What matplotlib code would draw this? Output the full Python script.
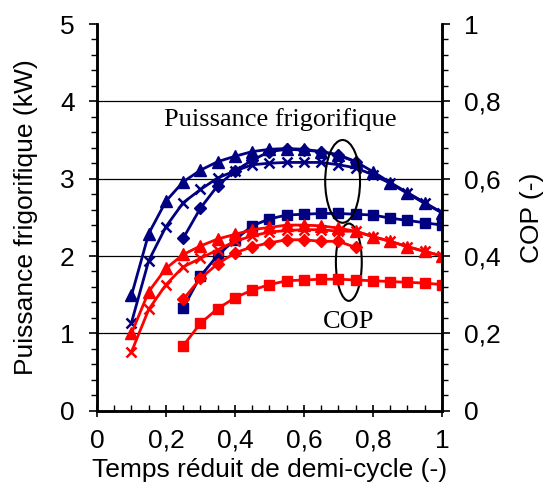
import matplotlib
matplotlib.use('Agg')
import matplotlib.pyplot as plt
from matplotlib.patches import Ellipse
from matplotlib.ticker import MultipleLocator, FuncFormatter

# Reduced half-cycle time (x axis)
x_full = [0.10, 0.15, 0.20, 0.25, 0.30, 0.35, 0.40, 0.45, 0.50, 0.55,
          0.60, 0.65, 0.70, 0.75, 0.80, 0.85, 0.90, 0.95, 1.00]
x_from_025 = x_full[3:]
x_diamond = x_full[3:14]

# Cooling power (kW), left axis
power_triangle = [1.49, 2.29, 2.71, 2.96, 3.11, 3.22, 3.29, 3.35, 3.38, 3.39,
                  3.38, 3.35, 3.31, 3.22, 3.09, 2.95, 2.82, 2.69, 2.56]
power_cross = [1.14, 1.94, 2.38, 2.69, 2.86, 3.01, 3.10, 3.18, 3.20, 3.21,
               3.21, 3.21, 3.18, 3.14, 3.05, 2.94, 2.81, 2.68, 2.56]
power_diamond = [2.23, 2.62, 2.91, 3.10, 3.24, 3.35, 3.38, 3.37, 3.35, 3.30, 3.22]
power_square = [1.33, 1.74, 2.01, 2.21, 2.39, 2.48, 2.53, 2.54, 2.55, 2.55,
                2.54, 2.53, 2.49, 2.46, 2.43, 2.40]

# COP (-), right axis
cop_triangle = [0.200, 0.308, 0.368, 0.404, 0.426, 0.444, 0.456, 0.468, 0.474, 0.480,
                0.480, 0.478, 0.472, 0.464, 0.450, 0.438, 0.424, 0.412, 0.400]
cop_cross = [0.152, 0.262, 0.326, 0.372, 0.394, 0.416, 0.438, 0.452, 0.462, 0.466,
             0.468, 0.468, 0.464, 0.464, 0.450, 0.438, 0.424, 0.412, 0.400]
cop_diamond = [0.288, 0.342, 0.380, 0.408, 0.424, 0.434, 0.442, 0.442, 0.438, 0.438, 0.422]
cop_square = [0.168, 0.226, 0.264, 0.292, 0.312, 0.326, 0.336, 0.338, 0.340, 0.340,
              0.338, 0.336, 0.334, 0.332, 0.330, 0.326]

blue = '#000080'
red = '#FF0000'
sans = 'Liberation Sans'
serif = 'Liberation Serif'

plt.rcParams['font.family'] = sans

fig = plt.figure(figsize=(5.47, 4.86), dpi=100)
ax1 = fig.add_axes([0.1773, 0.155, 0.6307, 0.7956])
ax2 = ax1.twinx()

lw = 2.0
ms = 7
ax1.plot(x_full, power_triangle, color=blue, lw=lw, marker='^', ms=ms + 1)
ax1.plot(x_full, power_cross, color=blue, lw=lw, marker='x', ms=ms, mew=1.8)
ax1.plot(x_diamond, power_diamond, color=blue, lw=lw, marker='D', ms=ms - 1)
ax1.plot(x_from_025, power_square, color=blue, lw=lw, marker='s', ms=ms)

ax2.plot(x_full, cop_triangle, color=red, lw=lw, marker='^', ms=ms + 1)
ax2.plot(x_full, cop_cross, color=red, lw=lw, marker='x', ms=ms, mew=1.8)
ax2.plot(x_diamond, cop_diamond, color=red, lw=lw, marker='D', ms=ms - 1)
ax2.plot(x_from_025, cop_square, color=red, lw=lw, marker='s', ms=ms)

ax1.set_xlim(0, 1)
ax1.set_ylim(0, 5)
ax2.set_ylim(0, 1)

comma = FuncFormatter(lambda v, p: ('%g' % round(v, 2)).replace('.', ','))

ax1.xaxis.set_major_locator(MultipleLocator(0.2))
ax1.xaxis.set_minor_locator(MultipleLocator(0.05))
ax1.xaxis.set_major_formatter(comma)
ax1.yaxis.set_major_locator(MultipleLocator(1))
ax1.yaxis.set_minor_locator(MultipleLocator(0.2))
ax2.yaxis.set_major_locator(MultipleLocator(0.2))
ax2.yaxis.set_minor_locator(MultipleLocator(0.04))
ax2.yaxis.set_major_formatter(comma)

for y in [1, 2, 3, 4]:
    ax1.axhline(y, color='black', lw=0.9, zorder=0)

for ax in (ax1, ax2):
    ax.spines['top'].set_visible(False)
    for s in ('left', 'right', 'bottom'):
        ax.spines[s].set_linewidth(1.8)
ax1.tick_params(axis='y', which='major', direction='out', length=6, width=1.2, labelsize=19, pad=10)
ax1.tick_params(axis='y', which='minor', direction='out', length=4, width=1)
ax1.tick_params(axis='x', which='major', direction='inout', length=8, width=1.2, labelsize=19, pad=9)
ax1.tick_params(axis='x', which='minor', direction='in', length=4, width=1)
ax2.tick_params(axis='y', which='major', direction='out', length=6, width=1.2, labelsize=19, pad=10)
ax2.tick_params(axis='y', which='minor', direction='out', length=4, width=1)

ax1.set_xlabel('Temps réduit de demi-cycle (-)', fontsize=19, labelpad=4)
ax1.set_ylabel('Puissance frigorifique (kW)', fontsize=19, labelpad=16)
ax2.set_ylabel('COP (-)', fontsize=19, labelpad=14)

# annotations
ax2.add_patch(Ellipse((0.712, 2.965), 0.101, 1.07, transform=ax1.transData,
                      fill=False, edgecolor='black', lw=1.5))
ax2.add_patch(Ellipse((0.730, 1.92), 0.075, 1.0, transform=ax1.transData,
                      fill=False, edgecolor='black', lw=1.5))
ax1.text(0.53, 3.76, 'Puissance frigorifique', family=serif, fontsize=19,
         ha='center', va='center')
ax1.text(0.728, 1.15, 'COP', family=serif, fontsize=19, ha='center', va='center')

plt.savefig('out.png', dpi=100)
